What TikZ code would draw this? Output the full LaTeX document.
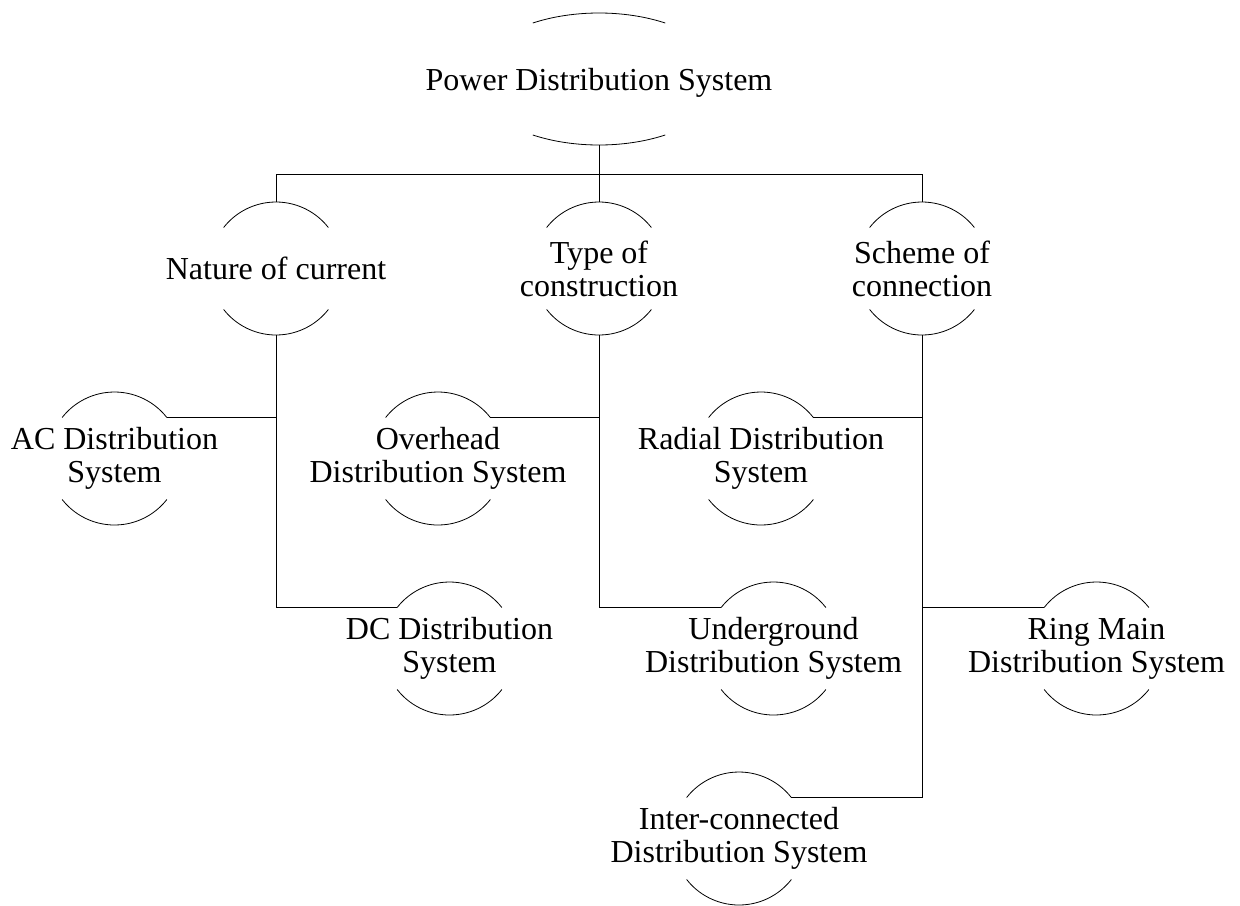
\documentclass[tikz,border=0pt]{standalone}
\usepackage{fontspec}
\setmainfont{Liberation Serif}
\usetikzlibrary{shapes.geometric}
\tikzset{
  x=0.5pt,
  y=0.5pt,
  line width=1.2pt,
  every label/.style={align=center, font=\fontsize{16pt}{16.5pt}\selectfont},
  topic/.style={ellipse, minimum width=125pt, minimum height=66pt, inner sep=0pt, outer sep=0pt},
  branch/.style={circle, minimum size=66.5pt, inner sep=0pt, outer sep=0pt},
}

\begin{document}
\begin{tikzpicture}
  \useasboundingbox (0,0) rectangle (1240,-905);

  % nodes
  \node[topic, label={[yshift=-2pt]center:Power Distribution System}] (root) at (599,-79) {};
  \node[branch, label={center:Nature of current}] (nat) at (276,-268.5) {};
  \node[branch, label={center:Type of\\construction}] (typ) at (599,-268.5) {};
  \node[branch, label={center:Scheme of\\connection}] (sch) at (922,-268.5) {};
  \node[branch, label={center:AC Distribution\\System}] (ac) at (114.5,-458.5) {};
  \node[branch, label={center:Overhead\\Distribution System}] (ovh) at (438,-458.5) {};
  \node[branch, label={center:Radial Distribution\\System}] (rad) at (761,-458.5) {};
  \node[branch, label={center:DC Distribution\\System}] (dc) at (449.5,-648.5) {};
  \node[branch, label={center:Underground\\Distribution System}] (ug) at (773.5,-648.5) {};
  \node[branch, label={center:Ring Main\\Distribution System}] (ring) at (1096.5,-648.5) {};
  \node[branch, label={center:Inter-connected\\Distribution System}] (ic) at (739,-838.5) {};
  \coordinate (bus) at (599,-174);

  % arcs
  \draw ([shift={(58:125 and 66)}]root.center) arc[start angle=58, end angle=122, x radius=125, y radius=66]
        ([shift={(238:125 and 66)}]root.center) arc[start angle=238, end angle=302, x radius=125, y radius=66];
  \foreach \n in {nat, typ, sch, ac, ovh, rad, dc, ug, ring, ic}
    \draw (\n.38) arc[start angle=38, end angle=142, radius=66.5]
          (\n.218) arc[start angle=218, end angle=322, radius=66.5];

  % connections
  \draw (root.south) -- (bus) -| (nat.north)
        (bus) -- (typ.north)
        (bus) -| (sch.north);
  \draw (nat.south) |- (ac.38)
        (nat.south) |- (dc.142);
  \draw (typ.south) |- (ovh.38)
        (typ.south) |- (ug.142);
  \draw (sch.south) |- (rad.38)
        (sch.south) |- (ring.142)
        (sch.south) |- (ic.38);
\end{tikzpicture}
\end{document}
